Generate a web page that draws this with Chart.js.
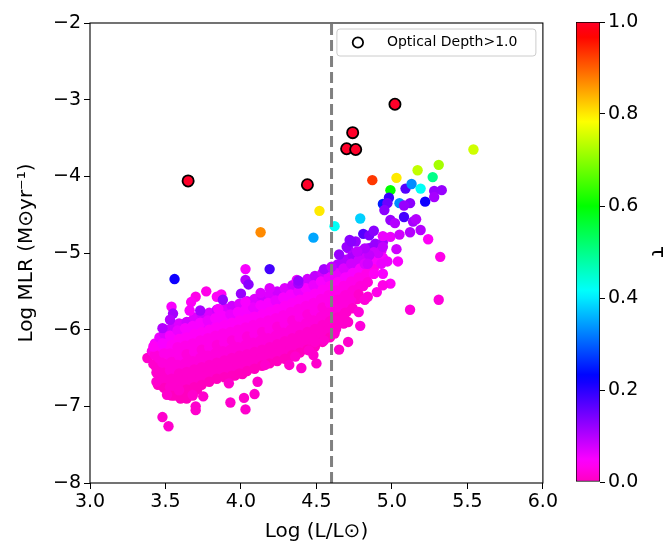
<!DOCTYPE html>
<html lang="en">
<head>
    <meta charset="UTF-8">
    <title>Mass-loss rate vs luminosity</title>
    <script src="https://cdn.jsdelivr.net/npm/chart.js"></script>
    <style>
        body { margin: 0; background: #fff; }
        .wrap { position: relative; width: 667px; height: 544px; }
        #mlrChart { position: absolute; left: 0; top: 0; }
        #tauBar { position: absolute; left: 560px; top: 0; }
    </style>
</head>
<body>
<div class="wrap">
    <canvas id="mlrChart" width="560" height="544"></canvas>
    <canvas id="tauBar" width="107" height="544"></canvas>
</div>
<script>
    // [log L, log MLR, tau] for the bulk of the sample
    const bulkStars = [
        [3.38,-6.37,0.01],[3.41,-6.28,0.03],[3.42,-6.45,0.01],[3.43,-6.18,0.05],[3.44,-6.56,0.01],
        [3.46,-6.10,0.06],[3.47,-6.24,0.04],[3.46,-6.38,0.02],[3.48,-6.50,0.01],[3.47,-6.62,0.01],[3.45,-6.72,0.00],
        [3.50,-6.00,0.08],[3.52,-6.12,0.05],[3.51,-6.25,0.04],[3.53,-6.36,0.03],[3.50,-6.47,0.02],[3.52,-6.58,0.01],[3.51,-6.70,0.01],[3.53,-6.80,0.00],
        [3.56,-5.95,0.07],[3.57,-6.06,0.06],[3.55,-6.18,0.04],[3.58,-6.29,0.03],[3.56,-6.41,0.02],[3.57,-6.52,0.02],[3.55,-6.63,0.01],[3.58,-6.74,0.01],[3.56,-6.86,0.00],
        [3.61,-5.93,0.07],[3.62,-6.04,0.05],[3.60,-6.15,0.04],[3.63,-6.27,0.03],[3.61,-6.38,0.02],[3.62,-6.50,0.02],[3.60,-6.61,0.01],[3.63,-6.72,0.01],[3.61,-6.84,0.00],
        [3.66,-5.90,0.08],[3.67,-6.01,0.05],[3.65,-6.13,0.04],[3.68,-6.24,0.03],[3.66,-6.36,0.03],[3.67,-6.47,0.02],[3.65,-6.59,0.01],[3.68,-6.70,0.01],[3.66,-6.82,0.00],
        [3.71,-5.86,0.07],[3.72,-5.98,0.05],[3.70,-6.09,0.04],[3.73,-6.21,0.03],[3.71,-6.32,0.03],[3.72,-6.44,0.02],[3.70,-6.55,0.01],[3.73,-6.66,0.01],[3.71,-6.78,0.00],
        [3.76,-5.82,0.08],[3.77,-5.94,0.06],[3.75,-6.05,0.04],[3.78,-6.17,0.03],[3.76,-6.28,0.03],[3.77,-6.40,0.02],[3.75,-6.51,0.01],[3.78,-6.63,0.01],
        [3.81,-5.80,0.07],[3.82,-5.91,0.05],[3.80,-6.03,0.04],[3.83,-6.14,0.03],[3.81,-6.26,0.02],[3.82,-6.37,0.02],[3.80,-6.49,0.01],[3.83,-6.60,0.01],
        [3.86,-5.77,0.08],[3.87,-5.88,0.05],[3.85,-6.00,0.04],[3.88,-6.11,0.03],[3.86,-6.23,0.03],[3.87,-6.34,0.02],[3.85,-6.46,0.01],[3.88,-6.57,0.01],
        [3.91,-5.74,0.07],[3.92,-5.86,0.05],[3.90,-5.97,0.04],[3.93,-6.09,0.03],[3.91,-6.20,0.02],[3.92,-6.32,0.02],[3.90,-6.43,0.01],[3.93,-6.55,0.01],
        [3.96,-5.71,0.08],[3.97,-5.83,0.06],[3.95,-5.94,0.04],[3.98,-6.06,0.03],[3.96,-6.17,0.03],[3.97,-6.29,0.02],[3.95,-6.40,0.01],[3.98,-6.52,0.01],[3.96,-6.60,0.00],
        [4.01,-5.68,0.07],[4.02,-5.80,0.05],[4.00,-5.91,0.04],[4.03,-6.03,0.03],[4.01,-6.14,0.02],[4.02,-6.26,0.02],[4.00,-6.37,0.01],[4.03,-6.49,0.01],[4.01,-6.58,0.00],
        [4.06,-5.66,0.08],[4.07,-5.77,0.05],[4.05,-5.89,0.04],[4.08,-6.00,0.03],[4.06,-6.12,0.03],[4.07,-6.23,0.02],[4.05,-6.35,0.01],[4.08,-6.46,0.01],
        [4.11,-5.62,0.07],[4.12,-5.74,0.06],[4.10,-5.85,0.04],[4.13,-5.97,0.03],[4.11,-6.08,0.02],[4.12,-6.20,0.02],[4.10,-6.31,0.01],[4.13,-6.43,0.01],
        [4.16,-5.59,0.08],[4.17,-5.71,0.05],[4.15,-5.82,0.04],[4.18,-5.94,0.03],[4.16,-6.05,0.03],[4.17,-6.17,0.02],[4.15,-6.28,0.01],[4.18,-6.40,0.01],
        [4.21,-5.56,0.07],[4.22,-5.68,0.05],[4.20,-5.79,0.04],[4.23,-5.91,0.03],[4.21,-6.02,0.02],[4.22,-6.14,0.02],[4.20,-6.25,0.01],[4.23,-6.37,0.01],
        [4.26,-5.52,0.08],[4.27,-5.64,0.06],[4.25,-5.75,0.04],[4.28,-5.87,0.03],[4.26,-5.98,0.03],[4.27,-6.10,0.02],[4.25,-6.21,0.01],[4.28,-6.33,0.01],
        [4.31,-5.48,0.07],[4.32,-5.60,0.05],[4.30,-5.71,0.04],[4.33,-5.83,0.03],[4.31,-5.94,0.02],[4.32,-6.06,0.02],[4.30,-6.17,0.01],[4.33,-6.29,0.01],[4.31,-6.38,0.00],
        [4.36,-5.44,0.08],[4.37,-5.56,0.05],[4.35,-5.67,0.04],[4.38,-5.79,0.03],[4.36,-5.90,0.03],[4.37,-6.02,0.02],[4.35,-6.13,0.01],[4.38,-6.25,0.01],
        [4.41,-5.40,0.07],[4.42,-5.52,0.06],[4.40,-5.63,0.04],[4.43,-5.75,0.03],[4.41,-5.86,0.02],[4.42,-5.98,0.02],[4.40,-6.09,0.01],[4.43,-6.21,0.01],
        [4.46,-5.36,0.08],[4.47,-5.48,0.05],[4.45,-5.59,0.04],[4.48,-5.71,0.03],[4.46,-5.82,0.03],[4.47,-5.94,0.02],[4.45,-6.05,0.01],[4.48,-6.17,0.01],
        [4.51,-5.31,0.09],[4.52,-5.43,0.06],[4.50,-5.54,0.04],[4.53,-5.66,0.03],[4.51,-5.77,0.02],[4.52,-5.89,0.02],[4.50,-6.00,0.01],[4.53,-6.12,0.01],
        [4.56,-5.26,0.08],[4.57,-5.38,0.06],[4.55,-5.49,0.04],[4.58,-5.61,0.03],[4.56,-5.72,0.03],[4.57,-5.84,0.02],[4.55,-5.95,0.01],[4.58,-6.06,0.01],
        [4.61,-5.20,0.09],[4.62,-5.32,0.06],[4.60,-5.43,0.05],[4.63,-5.55,0.03],[4.61,-5.66,0.02],[4.62,-5.78,0.02],[4.60,-5.89,0.01],[4.63,-5.99,0.01],
        [4.66,-5.14,0.10],[4.67,-5.26,0.07],[4.65,-5.37,0.05],[4.68,-5.49,0.03],[4.66,-5.60,0.02],[4.67,-5.72,0.02],[4.65,-5.83,0.01],[4.68,-5.92,0.01],
        [4.71,-5.08,0.10],[4.72,-5.20,0.07],[4.70,-5.31,0.05],[4.73,-5.43,0.03],[4.71,-5.54,0.02],[4.72,-5.66,0.02],[4.70,-5.77,0.01],
        [4.76,-5.02,0.11],[4.77,-5.14,0.08],[4.75,-5.25,0.05],[4.78,-5.37,0.03],[4.76,-5.48,0.02],[4.77,-5.60,0.01],
        [4.81,-4.97,0.12],[4.82,-5.08,0.08],[4.80,-5.20,0.05],[4.83,-5.31,0.03],[4.81,-5.43,0.02],
        [4.86,-4.93,0.11],[4.87,-5.04,0.08],[4.85,-5.16,0.05],[4.88,-5.27,0.03],
        [4.91,-4.90,0.12],[4.92,-5.01,0.07],[4.90,-5.12,0.04]
    ];

    // second pass through the bulk, between the first one's columns
    const bulkStarsMid = [
        [3.43,-6.33,0.02],[3.44,-6.50,0.01],[3.42,-6.22,0.04],
        [3.49,-6.05,0.07],[3.48,-6.18,0.05],[3.49,-6.31,0.03],[3.48,-6.43,0.02],[3.49,-6.56,0.01],[3.48,-6.66,0.01],[3.49,-6.76,0.00],
        [3.54,-5.98,0.08],[3.53,-6.08,0.05],[3.54,-6.20,0.04],[3.53,-6.31,0.03],[3.54,-6.42,0.02],[3.53,-6.53,0.02],[3.54,-6.64,0.01],[3.53,-6.75,0.01],[3.54,-6.86,0.00],
        [3.59,-5.92,0.07],[3.58,-6.01,0.06],[3.59,-6.12,0.04],[3.58,-6.23,0.03],[3.59,-6.34,0.03],[3.58,-6.46,0.02],[3.59,-6.57,0.01],[3.58,-6.68,0.01],[3.59,-6.80,0.00],[3.60,-6.90,0.00],
        [3.64,-5.90,0.08],[3.63,-5.98,0.05],[3.64,-6.10,0.04],[3.63,-6.21,0.03],[3.64,-6.32,0.02],[3.63,-6.44,0.02],[3.64,-6.55,0.01],[3.63,-6.66,0.01],[3.64,-6.78,0.00],[3.64,-6.90,0.00],
        [3.69,-5.84,0.07],[3.68,-5.95,0.05],[3.69,-6.06,0.04],[3.68,-6.18,0.03],[3.69,-6.29,0.03],[3.68,-6.41,0.02],[3.69,-6.52,0.01],[3.68,-6.63,0.01],[3.69,-6.75,0.00],[3.68,-6.86,0.00],
        [3.74,-5.80,0.08],[3.73,-5.91,0.05],[3.74,-6.03,0.04],[3.73,-6.14,0.03],[3.74,-6.26,0.02],[3.73,-6.37,0.02],[3.74,-6.49,0.01],[3.73,-6.60,0.01],[3.74,-6.72,0.00],
        [3.79,-5.78,0.07],[3.78,-5.88,0.06],[3.79,-6.00,0.04],[3.78,-6.11,0.03],[3.79,-6.23,0.03],[3.78,-6.34,0.02],[3.79,-6.46,0.01],[3.78,-6.57,0.01],[3.79,-6.68,0.00],
        [3.84,-5.74,0.08],[3.83,-5.85,0.05],[3.84,-5.97,0.04],[3.83,-6.08,0.03],[3.84,-6.20,0.02],[3.83,-6.31,0.02],[3.84,-6.43,0.01],[3.83,-6.54,0.01],[3.84,-6.64,0.00],
        [3.89,-5.72,0.07],[3.88,-5.82,0.05],[3.89,-5.94,0.04],[3.88,-6.05,0.03],[3.89,-6.17,0.03],[3.88,-6.28,0.02],[3.89,-6.40,0.01],[3.88,-6.51,0.01],[3.89,-6.62,0.00],
        [3.94,-5.69,0.08],[3.93,-5.80,0.06],[3.94,-5.91,0.04],[3.93,-6.03,0.03],[3.94,-6.14,0.02],[3.93,-6.26,0.02],[3.94,-6.37,0.01],[3.93,-6.49,0.01],[3.94,-6.60,0.00],
        [3.99,-5.66,0.07],[3.98,-5.77,0.05],[3.99,-5.88,0.04],[3.98,-6.00,0.03],[3.99,-6.11,0.03],[3.98,-6.23,0.02],[3.99,-6.34,0.01],[3.98,-6.46,0.01],[3.99,-6.57,0.00],
        [4.04,-5.63,0.08],[4.03,-5.74,0.05],[4.04,-5.86,0.04],[4.03,-5.97,0.03],[4.04,-6.09,0.02],[4.03,-6.20,0.02],[4.04,-6.32,0.01],[4.03,-6.43,0.01],[4.04,-6.54,0.00],
        [4.09,-5.60,0.07],[4.08,-5.71,0.06],[4.09,-5.83,0.04],[4.08,-5.94,0.03],[4.09,-6.06,0.03],[4.08,-6.17,0.02],[4.09,-6.29,0.01],[4.08,-6.40,0.01],[4.09,-6.51,0.00],
        [4.14,-5.57,0.08],[4.13,-5.68,0.05],[4.14,-5.80,0.04],[4.13,-5.91,0.03],[4.14,-6.03,0.02],[4.13,-6.14,0.02],[4.14,-6.26,0.01],[4.13,-6.37,0.01],[4.14,-6.47,0.00],
        [4.19,-5.54,0.07],[4.18,-5.65,0.05],[4.19,-5.77,0.04],[4.18,-5.88,0.03],[4.19,-6.00,0.03],[4.18,-6.11,0.02],[4.19,-6.23,0.01],[4.18,-6.34,0.01],[4.19,-6.44,0.00],
        [4.24,-5.50,0.08],[4.23,-5.62,0.06],[4.24,-5.73,0.04],[4.23,-5.85,0.03],[4.24,-5.96,0.02],[4.23,-6.08,0.02],[4.24,-6.19,0.01],[4.23,-6.31,0.01],[4.24,-6.41,0.00],
        [4.29,-5.46,0.07],[4.28,-5.58,0.05],[4.29,-5.69,0.04],[4.28,-5.81,0.03],[4.29,-5.92,0.03],[4.28,-6.04,0.02],[4.29,-6.15,0.01],[4.28,-6.27,0.01],[4.29,-6.38,0.00],
        [4.34,-5.42,0.08],[4.33,-5.54,0.05],[4.34,-5.65,0.04],[4.33,-5.77,0.03],[4.34,-5.88,0.02],[4.33,-6.00,0.02],[4.34,-6.11,0.01],[4.33,-6.23,0.01],[4.34,-6.33,0.00],
        [4.39,-5.38,0.07],[4.38,-5.50,0.06],[4.39,-5.61,0.04],[4.38,-5.73,0.03],[4.39,-5.84,0.03],[4.38,-5.96,0.02],[4.39,-6.07,0.01],[4.38,-6.19,0.01],[4.39,-6.30,0.00],
        [4.44,-5.34,0.08],[4.43,-5.46,0.05],[4.44,-5.57,0.04],[4.43,-5.69,0.03],[4.44,-5.80,0.02],[4.43,-5.92,0.02],[4.44,-6.03,0.01],[4.43,-6.15,0.01],[4.44,-6.26,0.00],
        [4.49,-5.30,0.09],[4.48,-5.42,0.06],[4.49,-5.53,0.04],[4.48,-5.65,0.03],[4.49,-5.76,0.03],[4.48,-5.88,0.02],[4.49,-5.99,0.01],[4.48,-6.11,0.01],[4.49,-6.22,0.00],
        [4.54,-5.26,0.08],[4.53,-5.37,0.05],[4.54,-5.48,0.04],[4.53,-5.60,0.03],[4.54,-5.71,0.02],[4.53,-5.83,0.02],[4.54,-5.94,0.01],[4.53,-6.06,0.01],[4.54,-6.16,0.00],
        [4.59,-5.21,0.09],[4.58,-5.32,0.06],[4.59,-5.43,0.04],[4.58,-5.55,0.03],[4.59,-5.66,0.03],[4.58,-5.78,0.02],[4.59,-5.89,0.01],[4.58,-6.00,0.01],[4.59,-6.10,0.00],
        [4.64,-5.15,0.10],[4.63,-5.26,0.06],[4.64,-5.38,0.04],[4.63,-5.49,0.03],[4.64,-5.61,0.02],[4.63,-5.72,0.02],[4.64,-5.84,0.01],[4.63,-5.94,0.01],
        [4.69,-5.09,0.10],[4.68,-5.20,0.07],[4.69,-5.32,0.05],[4.68,-5.43,0.03],[4.69,-5.55,0.02],[4.68,-5.66,0.02],[4.69,-5.78,0.01],[4.69,-5.88,0.01],
        [4.74,-5.03,0.11],[4.73,-5.14,0.08],[4.74,-5.26,0.05],[4.73,-5.37,0.03],[4.74,-5.49,0.02],[4.73,-5.60,0.02],[4.74,-5.72,0.01],
        [4.79,-4.98,0.11],[4.78,-5.09,0.08],[4.79,-5.20,0.05],[4.78,-5.32,0.03],[4.79,-5.43,0.02],[4.78,-5.54,0.01],
        [4.84,-4.94,0.12],[4.83,-5.05,0.08],[4.84,-5.16,0.05],[4.83,-5.27,0.03],[4.84,-5.38,0.02],
        [4.89,-4.88,0.12],[4.88,-4.99,0.08],[4.89,-5.10,0.05],[4.88,-5.21,0.03],
        [4.94,-4.86,0.11],[4.93,-4.97,0.07],[4.94,-5.06,0.05]
    ];

    // stragglers round the edges of the bulk
    const edgeStars = [
        [3.44,-6.68,0.01],[3.48,-7.14,0.01],[3.52,-7.26,0.01],[3.70,-7.00,0.01],[3.70,-7.05,0.01],
        [3.93,-6.95,0.01],[4.02,-6.89,0.01],[4.03,-7.04,0.01],[4.09,-6.84,0.01],[4.16,-6.46,0.01],
        [4.40,-6.50,0.01],[4.50,-6.44,0.01],[4.32,-6.46,0.01],[4.11,-6.68,0.01],[3.92,-6.70,0.01],
        [3.75,-6.87,0.01],[3.68,-6.85,0.01],[3.51,-6.85,0.01],[3.59,-6.79,0.01],
        [4.03,-5.21,0.05],[4.03,-5.35,0.10],[4.05,-5.41,0.13],[4.00,-5.53,0.12],[4.13,-5.52,0.07],
        [4.19,-5.46,0.07],[3.77,-5.50,0.03],[3.70,-5.57,0.03],[3.67,-5.64,0.04],[3.84,-5.57,0.04],
        [3.87,-5.54,0.04],[3.88,-5.61,0.12],[3.54,-5.70,0.05],[3.55,-5.79,0.11],[3.53,-5.87,0.10],
        [3.48,-5.98,0.10],[3.73,-5.75,0.11],[3.66,-5.75,0.05],[3.85,-5.73,0.05],[4.03,-5.64,0.05],
        [4.37,-5.35,0.06],[4.38,-5.40,0.11],[4.55,-5.21,0.11],[4.38,-5.36,0.12],[4.60,-5.18,0.09],
        [4.65,-5.02,0.12],[4.91,-5.00,0.08],[4.94,-4.92,0.09],[5.03,-4.95,0.08],[5.04,-5.11,0.05],
        [4.97,-5.11,0.06],[4.93,-5.14,0.06],[4.85,-5.03,0.09],[4.88,-5.27,0.04],[4.94,-5.27,0.05],
        [4.99,-5.40,0.04],[4.94,-5.42,0.03],[4.90,-5.51,0.03],[4.84,-5.57,0.02],[4.82,-5.61,0.02],
        [4.78,-5.77,0.02],[4.79,-5.95,0.02],[4.71,-5.90,0.01],[4.71,-6.16,0.01],[4.65,-6.26,0.01],
        [4.62,-6.05,0.01],[4.55,-6.14,0.01],[4.49,-6.16,0.01],[4.45,-6.27,0.01],[4.48,-6.33,0.01],
        [4.36,-6.35,0.01],[4.71,-4.94,0.10],[4.76,-4.85,0.12],[4.72,-4.83,0.13],[4.82,-4.94,0.10],
        [4.77,-4.98,0.09],[4.82,-5.14,0.07],[4.84,-5.14,0.08],[4.70,-4.92,0.12],[4.73,-4.85,0.13]
    ];

    // brighter, dustier stars above the bulk
    const upperStars = [
        [5.54,-3.65,0.75],[5.31,-3.85,0.72],[5.17,-3.92,0.74],[5.27,-4.01,0.50],[5.03,-4.02,0.80],
        [4.87,-4.05,0.93],[4.99,-4.18,0.60],[5.09,-4.16,0.17],[5.13,-4.10,0.33],[5.19,-4.16,0.42],
        [5.28,-4.19,0.12],[5.33,-4.18,0.12],[5.28,-4.27,0.11],[5.22,-4.33,0.22],[5.05,-4.35,0.33],
        [4.98,-4.28,0.19],[4.94,-4.36,0.25],[4.97,-4.35,0.15],[4.95,-4.44,0.13],[5.12,-4.35,0.13],
        [5.08,-4.38,0.12],[5.08,-4.53,0.18],[4.52,-4.45,0.80],[4.79,-4.55,0.38],[4.62,-4.65,0.42],
        [4.48,-4.80,0.35],[4.13,-4.73,0.87],[4.99,-4.57,0.12],[5.02,-4.61,0.10],[5.14,-4.59,0.11],
        [5.16,-4.56,0.10],[5.19,-4.70,0.10],[4.81,-4.75,0.17],[4.85,-4.77,0.14],[4.88,-4.71,0.13],
        [4.94,-4.78,0.06],[4.99,-4.79,0.06],[5.05,-4.76,0.08],[5.12,-4.73,0.10],[5.24,-4.82,0.04],
        [5.32,-5.05,0.03],[5.31,-5.61,0.02],[5.12,-5.74,0.02],[3.56,-5.34,0.22],[4.19,-5.21,0.18]
    ];

    // optical depth above 1
    const thickLum = [3.65, 4.44, 5.02, 4.74, 4.70, 4.76];
    const thickMlr = [-4.06, -4.11, -3.06, -3.43, -3.64, -3.65];

    const xTicks = [3.0, 3.5, 4.0, 4.5, 5.0, 5.5, 6.0];
    const yTicks = [-8, -7, -6, -5, -4, -3, -2];
    const tauTicks = [0.0, 0.2, 0.4, 0.6, 0.8, 1.0];
    const lumCut = 4.6;

    const FONT = 'DejaVu Sans';

    // gist_rainbow, read backwards so tau=0 is magenta and tau=1 is red
    const rainbow = [
        [0.000, [1, 0, 0.16]], [0.030, [1, 0, 0]], [0.215, [1, 1, 0]], [0.400, [0, 1, 0]],
        [0.586, [0, 1, 1]], [0.770, [0, 0, 1]], [0.954, [1, 0, 1]], [1.000, [1, 0, 0.75]]
    ];
    function tauColor(t) {
        const g = 1 - Math.min(Math.max(t, 0), 1);
        for (let i = 1; i < rainbow.length; i++) {
            if (g <= rainbow[i][0]) {
                const [g0, c0] = rainbow[i - 1], [g1, c1] = rainbow[i];
                const f = (g - g0) / (g1 - g0);
                const c = c0.map((v, k) => Math.round(255 * (v + (c1[k] - v) * f)));
                return `rgb(${c[0]},${c[1]},${c[2]})`;
            }
        }
        return 'rgb(255,0,191)';
    }

    const toPoints = rows => rows.map(r => ({ x: r[0], y: r[1] }));
    const toColors = rows => rows.map(r => tauColor(r[2]));
    const minus = v => (v < 0 ? '\u2212' + Math.abs(v) : String(v));

    const starSet = rows => ({
        data: toPoints(rows),
        pointBackgroundColor: toColors(rows),
        pointBorderWidth: 0,
        pointRadius: 5.2
    });

    // black frame round the plot
    const frame = {
        id: 'frame',
        afterDraw(chart) {
            const { ctx, chartArea: a } = chart;
            ctx.save();
            ctx.strokeStyle = '#000';
            ctx.lineWidth = 1.1;
            ctx.strokeRect(a.left, a.top, a.width, a.height);
            ctx.restore();
        }
    };

    // legend box in the upper-right corner
    const cornerLegend = {
        id: 'cornerLegend',
        afterDraw(chart) {
            const { ctx, chartArea: a } = chart;
            const w = 199, h = 27;
            const x = a.right - 7 - w, y = a.top + 6;
            ctx.save();
            ctx.beginPath();
            ctx.roundRect(x, y, w, h, 3);
            ctx.fillStyle = 'rgba(255,255,255,0.8)';
            ctx.fill();
            ctx.strokeStyle = '#cccccc';
            ctx.lineWidth = 1;
            ctx.stroke();
            ctx.beginPath();
            ctx.arc(x + 21, y + 13.5, 5.2, 0, Math.PI * 2);
            ctx.strokeStyle = '#000';
            ctx.lineWidth = 1.8;
            ctx.stroke();
            ctx.fillStyle = '#000';
            ctx.font = `14px "${FONT}"`;
            ctx.textBaseline = 'middle';
            ctx.fillText('Optical Depth>1.0', x + 50, y + 13.5);
            ctx.restore();
        }
    };

    new Chart(document.getElementById('mlrChart'), {
        type: 'scatter',
        data: {
            datasets: [
                {
                    type: 'line',
                    data: [{ x: lumCut, y: -8 }, { x: lumCut, y: -2 }],
                    borderColor: '#808080',
                    borderWidth: 3,
                    borderDash: [11, 5],
                    pointRadius: 0
                },
                {
                    data: thickLum.map((x, i) => ({ x: x, y: thickMlr[i] })),
                    pointBackgroundColor: tauColor(1.0),
                    pointBorderColor: '#000',
                    pointBorderWidth: 1.8,
                    pointRadius: 5.6
                },
                starSet(upperStars),
                starSet(edgeStars),
                starSet(bulkStarsMid),
                starSet(bulkStars)
            ]
        },
        options: {
            responsive: false,
            animation: false,
            events: [],
            layout: { padding: { left: 0, top: 23, right: 14, bottom: 0 } },
            plugins: { legend: { display: false }, tooltip: { enabled: false } },
            scales: {
                x: {
                    type: 'linear',
                    min: 3, max: 6,
                    afterBuildTicks: s => { s.ticks = xTicks.map(v => ({ value: v })); },
                    afterFit: s => { s.height = 61; },
                    border: { display: false },
                    grid: { drawOnChartArea: false, drawTicks: true, tickLength: 6, color: '#000' },
                    ticks: {
                        color: '#000', padding: 2,
                        font: { family: FONT, size: 19 },
                        callback: v => v.toFixed(1)
                    },
                    title: {
                        display: true, text: 'Log (L/L\u2299)', color: '#000',
                        font: { family: FONT, size: 20 }, padding: { top: 1, bottom: 0 }
                    }
                },
                y: {
                    type: 'linear',
                    min: -8, max: -2,
                    afterBuildTicks: s => { s.ticks = yTicks.map(v => ({ value: v })); },
                    afterFit: s => { s.width = 90; },
                    border: { display: false },
                    grid: { drawOnChartArea: false, drawTicks: true, tickLength: 6, color: '#000' },
                    ticks: {
                        color: '#000', padding: 3,
                        font: { family: FONT, size: 19 },
                        callback: v => minus(v)
                    },
                    title: {
                        display: true, text: 'Log MLR (M\u2299yr\u207B\u00B9)', color: '#000',
                        font: { family: FONT, size: 20 }, padding: { top: 15, bottom: 0 }
                    }
                }
            }
        },
        plugins: [frame, cornerLegend]
    });

    // colour bar: one floating bar from 0 to 1 shaded with the same map
    new Chart(document.getElementById('tauBar'), {
        type: 'bar',
        data: {
            labels: ['tau'],
            datasets: [{
                data: [[0, 1]],
                barPercentage: 1,
                categoryPercentage: 1,
                borderColor: '#000',
                borderWidth: 1,
                borderSkipped: false,
                backgroundColor: ctx => {
                    const chart = ctx.chart;
                    if (!chart.chartArea) return tauColor(0);
                    const ys = chart.scales.y;
                    const g = chart.ctx.createLinearGradient(0, ys.getPixelForValue(0), 0, ys.getPixelForValue(1));
                    for (let i = 0; i <= 60; i++) g.addColorStop(i / 60, tauColor(i / 60));
                    return g;
                }
            }]
        },
        options: {
            responsive: false,
            animation: false,
            events: [],
            layout: { padding: { left: 16, top: 22, right: 0, bottom: 62 } },
            plugins: { legend: { display: false }, tooltip: { enabled: false } },
            scales: {
                x: { display: false },
                y: {
                    position: 'right',
                    min: 0, max: 1,
                    afterBuildTicks: s => { s.ticks = tauTicks.map(v => ({ value: v })); },
                    afterFit: s => { s.width = 67; },
                    border: { display: false },
                    grid: { drawOnChartArea: false, drawTicks: true, tickLength: 5, color: '#000' },
                    ticks: {
                        color: '#000', padding: 3,
                        font: { family: FONT, size: 19 },
                        callback: v => v.toFixed(1)
                    },
                    title: {
                        display: true, text: '\u03C4', color: '#000',
                        font: { family: FONT, size: 20, lineHeight: 1 }, padding: { top: 0, bottom: 0 }
                    }
                }
            }
        }
    });
</script>
</body>
</html>
